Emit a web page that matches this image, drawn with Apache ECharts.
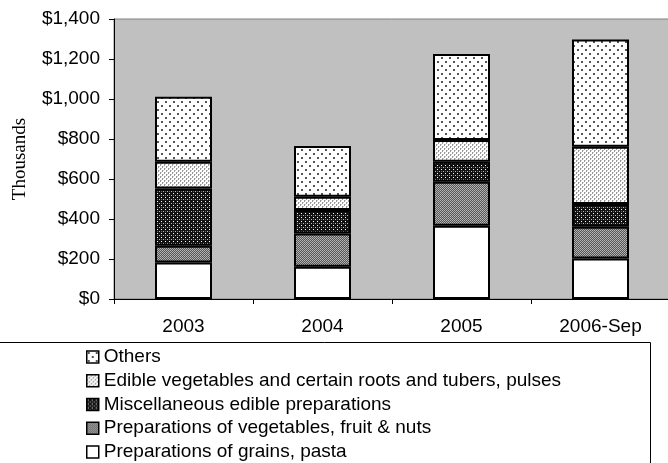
<!DOCTYPE html>
<html>
<head>
<meta charset="utf-8">
<script src="https://cdn.jsdelivr.net/npm/echarts@6/dist/echarts.min.js"></script>
<style>
html,body{margin:0;padding:0;background:#fff;}
#chart{width:668px;height:463px;}
</style>
</head>
<body>
<div id="chart"></div>
<script>
var categories = ['2003', '2004', '2005', '2006-Sep'];
var grains = [182, 161, 366, 203];
var prepVeg = [84, 167, 220, 158];
var misc = [287, 117, 100, 114];
var edible = [133, 66, 109, 286];
var others = [325, 254, 430, 537];
var yTicks = [0, 200, 400, 600, 800, 1000, 1200, 1400];

function makePattern(size, bg, pts) {
  var c = document.createElement('canvas');
  c.width = size; c.height = size;
  var ctx = c.getContext('2d');
  ctx.fillStyle = bg;
  ctx.fillRect(0, 0, size, size);
  pts.forEach(function (p) {
    ctx.fillStyle = p[4];
    ctx.fillRect(p[0], p[1], p[2], p[3]);
  });
  return { image: c, repeat: 'repeat' };
}

var patOthers = makePattern(8, '#ffffff', [[1,1,2,2,'#555555'],[5,5,2,2,'#555555']]);
var patEdible = makePattern(4, '#ffffff', [[0,0,1,2,'#999999'],[2,2,1,2,'#999999'],[1,0,1,1,'#cccccc'],[3,2,1,1,'#cccccc']]);
var patMisc = makePattern(4, '#111111', [[1,1,1,1,'#ffffff'],[3,3,1,1,'#bbbbbb'],[1,3,1,1,'#666666']]);
var patPrep = makePattern(2, '#555555', [[0,0,1,1,'#bbbbbb'],[1,1,1,1,'#aaaaaa']]);

var FONT = "'Liberation Sans', Arial, sans-serif";

function mk(name, data, color) {
  return {
    name: name, type: 'bar', stack: 'total', data: data, barWidth: 57,
    itemStyle: { color: color, borderColor: '#000', borderWidth: 2 },
    emphasis: { disabled: true }
  };
}

var chart = echarts.init(document.getElementById('chart'), null, { renderer: 'canvas' });
chart.setOption({
  animation: false,
  backgroundColor: '#ffffff',
  grid: { left: 114, top: 19, width: 556, height: 280, outerBoundsMode: 'none', containLabel: false, show: true, backgroundColor: '#c0c0c0', borderColor: '#808080', borderWidth: 1 },
  xAxis: {
    type: 'category', data: categories,
    axisLine: { lineStyle: { color: '#000', width: 1 } },
    axisTick: { show: true, length: 5, lineStyle: { color: '#000' } },
    axisLabel: { color: '#000', fontSize: 19, fontFamily: FONT, margin: 18 }
  },
  yAxis: {
    type: 'value', min: yTicks[0], max: yTicks[yTicks.length - 1], interval: 200,
    name: 'Thousands', nameLocation: 'middle', nameRotate: 90, nameGap: 84,
    nameTextStyle: { color: '#000', fontSize: 19, fontFamily: "'Liberation Serif', 'Times New Roman', serif" },
    axisLine: { show: true, lineStyle: { color: '#000', width: 1 } },
    axisTick: { show: true, length: 5, lineStyle: { color: '#000' } },
    splitLine: { show: false },
    axisLabel: {
      color: '#000', fontSize: 19, fontFamily: FONT, margin: 14,
      formatter: function (v) { return '$' + v.toLocaleString('en-US'); }
    }
  },
  legend: {
    orient: 'vertical', left: 86, top: 347, height: 140, width: 600, padding: 0,
    itemWidth: 12, itemHeight: 12, itemGap: 3.75,
    icon: 'rect',
    textStyle: { color: '#000', fontSize: 19, fontFamily: FONT, lineHeight: 20 },
    itemStyle: { borderColor: '#000', borderWidth: 1.5 },
    data: ['Others', 'Edible vegetables and certain roots and tubers, pulses', 'Miscellaneous edible preparations', 'Preparations of vegetables, fruit & nuts', 'Preparations of grains, pasta'],
    selectedMode: false
  },
  graphic: [{
    type: 'rect', z: -1, silent: true,
    shape: { x: -2, y: 342.5, width: 652.5, height: 130 },
    style: { fill: 'none', stroke: '#000', lineWidth: 1 }
  }],
  series: [
    mk('Preparations of grains, pasta', grains, '#ffffff'),
    mk('Preparations of vegetables, fruit & nuts', prepVeg, patPrep),
    mk('Miscellaneous edible preparations', misc, patMisc),
    mk('Edible vegetables and certain roots and tubers, pulses', edible, patEdible),
    mk('Others', others, patOthers)
  ]
});
</script>
</body>
</html>
